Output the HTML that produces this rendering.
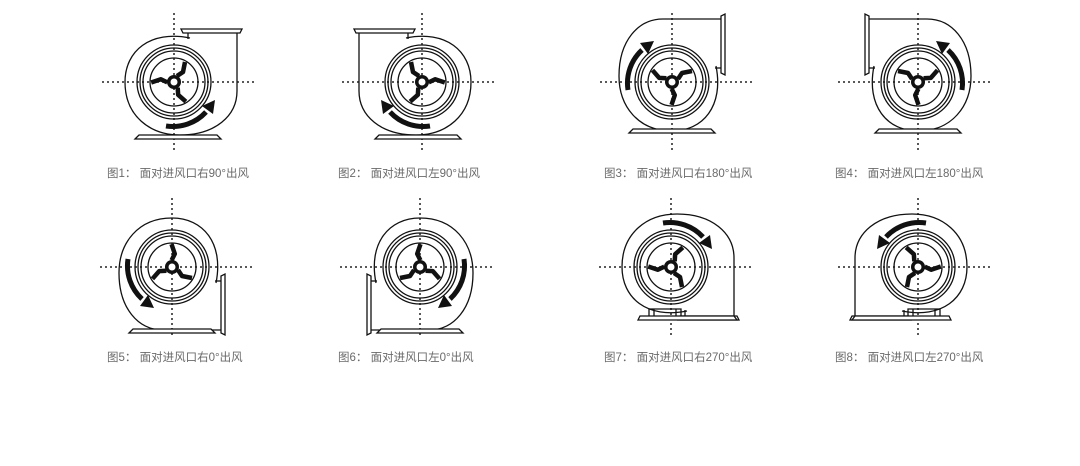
<!DOCTYPE html>
<html><head><meta charset="utf-8"><style>
html,body{margin:0;padding:0;background:#fff;}
body{width:1080px;height:466px;overflow:hidden;position:relative;}
.l{position:absolute;font:11.5px "Liberation Sans","Noto Sans CJK SC",sans-serif;color:#6a6a6a;white-space:nowrap;}
</style></head><body>
<svg width="1080" height="466" style="position:absolute;left:0;top:0">
<defs>
<g id="fan" fill="none" stroke="#111" stroke-width="1.3">
  <path d="M 16 -44 C -24 -52, -49 -31, -49 0 C -49 34, -24 53, 6 53 C 41 53, 63 34, 63 9 L 63 -49"/>
  <path d="M 14 -49 L 14 -43"/>
  <path d="M 9 -49 L 66 -49 L 68 -53 L 7 -53 Z"/>
  <circle r="37"/><circle r="34"/><circle r="31"/><circle r="24"/>
  <g stroke-width="4.5" stroke-linejoin="round">
    <path d="M 3 -6 L 9 -10 L 11 -20"/>
    <path d="M 3 -6 L 9 -10 L 11 -20" transform="rotate(120)"/>
    <path d="M 3 -6 L 9 -10 L 11 -20" transform="rotate(240)"/>
  </g>
  <circle r="7" fill="#111" stroke="none"/>
  <circle r="3.5" fill="#fff" stroke="none"/>
  <path d="M -8 44 A 45 45 0 0 0 32 30" stroke-width="5"/>
  <polygon points="41,18 39,32 28,24" fill="#111" stroke="none"/>
</g>
<g id="cross" stroke="#222" stroke-width="1.5" stroke-dasharray="2,3">
  <line x1="-72" y1="0" x2="82" y2="0"/>
  <line x1="0" y1="-69" x2="0" y2="68"/>
</g>
<g id="base" fill="#fff" stroke="#111" stroke-width="1.3">
  <path d="M -39 57 L -35 53 L 43 53 L 47 57 Z"/>
</g>
</defs>

<g transform="translate(174,82)"><use href="#cross"/><use href="#fan"/><use href="#base"/></g>
<g transform="translate(422,82) scale(-1,1)"><use href="#cross"/><use href="#fan"/><use href="#base"/></g>
<g transform="translate(672,82)"><use href="#cross"/><g transform="matrix(0,-1,-1,0,0,0)"><use href="#fan"/></g><use href="#base" transform="translate(-4,-6)"/></g>
<g transform="translate(918,82) scale(-1,1)"><use href="#cross"/><g transform="matrix(0,-1,-1,0,0,0)"><use href="#fan"/></g><use href="#base" transform="translate(-4,-6)"/></g>

<g transform="translate(172,267)"><use href="#cross"/><g transform="matrix(0,1,-1,0,0,0)"><use href="#fan"/></g><use href="#base" transform="translate(-4,9)"/></g>
<g transform="translate(420,267) scale(-1,1)"><use href="#cross"/><g transform="matrix(0,1,-1,0,0,0)"><use href="#fan"/></g><use href="#base" transform="translate(-4,9)"/></g>
<g transform="translate(671,267)"><use href="#cross"/><g transform="scale(1,-1)"><use href="#fan"/></g>
  <path d="M -33 53 L -31 49 L 63 49 L 66 53 Z" fill="#fff" stroke="#111" stroke-width="1.3"/>
  <path d="M -22 49 L -22 42 L 10 42 L 10 49 M -17 42 L -17 49 M 5 42 L 5 49" fill="none" stroke="#111" stroke-width="1.3"/></g>
<g transform="translate(918,267) scale(-1,1)"><use href="#cross"/><g transform="scale(1,-1)"><use href="#fan"/></g>
  <path d="M -33 53 L -31 49 L 63 49 L 66 53 Z" fill="#fff" stroke="#111" stroke-width="1.3"/>
  <path d="M -22 49 L -22 42 L 10 42 L 10 49 M -17 42 L -17 49 M 5 42 L 5 49" fill="none" stroke="#111" stroke-width="1.3"/></g>
</svg>
<div class="l" style="left:107px;top:165px">图1：&nbsp;面对进风口右90°出风</div>
<div class="l" style="left:338px;top:165px">图2：&nbsp;面对进风口左90°出风</div>
<div class="l" style="left:604px;top:165px">图3：&nbsp;面对进风口右180°出风</div>
<div class="l" style="left:835px;top:165px">图4：&nbsp;面对进风口左180°出风</div>
<div class="l" style="left:107px;top:349px">图5：&nbsp;面对进风口右0°出风</div>
<div class="l" style="left:338px;top:349px">图6：&nbsp;面对进风口左0°出风</div>
<div class="l" style="left:604px;top:349px">图7：&nbsp;面对进风口右270°出风</div>
<div class="l" style="left:835px;top:349px">图8：&nbsp;面对进风口左270°出风</div>
</body></html>
